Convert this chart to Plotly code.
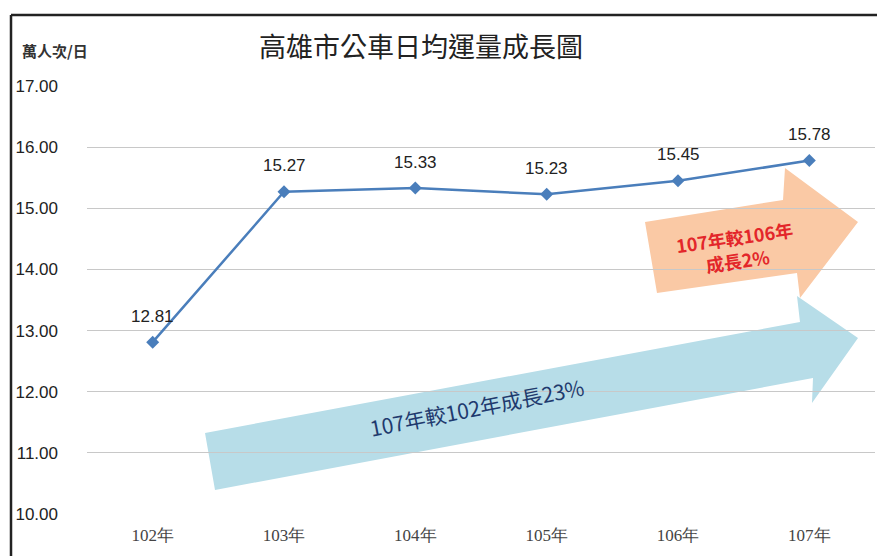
import plotly.graph_objects as go

years = ["102年", "103年", "104年", "105年", "106年", "107年"]
ridership = [12.81, 15.27, 15.33, 15.23, 15.45, 15.78]
y_ticks = [10, 11, 12, 13, 14, 15, 16, 17]
title_text = "高雄市公車日均運量成長圖"
unit_text = "萬人次/日"
arrow_big_text = "107年較102年成長23%"
arrow_small_text = "107年較106年<br>成長2%"

OFF = 8  # page body margin
W, H = 885 - OFF, 556 - OFF
L, R, T, B = 87 - OFF, 875 - OFF, 86 - OFF, 514 - OFF


def px(x):
    return (x - OFF - L) / (R - L)


def py(y):
    return (B - (y - OFF)) / (B - T)


def path(pts):
    return "M " + " L ".join(f"{px(x):.5f},{py(y):.5f}" for x, y in pts) + " Z"


fig = go.Figure()
fig.add_trace(go.Scatter(
    x=years, y=ridership,
    mode="lines+markers",
    line=dict(color="#4A7EBB", width=2.5),
    marker=dict(symbol="diamond", size=10, color="#4A7EBB"),
    cliponaxis=False,
    showlegend=False,
))

blue_arrow = [(205, 433), (800, 322), (797, 296), (858, 338), (812, 403), (813, 378), (215, 490)]
orange_arrow = [(645, 222), (783, 200), (785, 168), (858, 222), (800, 298), (797, 273), (657, 293)]

shapes = [
    dict(type="path", xref="paper", yref="paper", path=path(blue_arrow),
         fillcolor="#B7DDE8", line=dict(width=0), layer="between"),
    dict(type="path", xref="paper", yref="paper", path=path(orange_arrow),
         fillcolor="#FAC9A5", line=dict(width=0), layer="between"),
    # outer frame
    dict(type="line", xref="paper", yref="paper", x0=px(11), x1=px(895), y0=py(15), y1=py(15),
         line=dict(color="#222", width=2.5)),
    dict(type="line", xref="paper", yref="paper", x0=px(11), x1=px(11), y0=py(15), y1=py(570),
         line=dict(color="#222", width=2.5)),
]

annotations = [
    dict(x=xv, y=yv, xref="x", yref="y", text=f"{yv:.2f}", showarrow=False,
         yshift=26, font=dict(family="Arial, Liberation Sans", size=17, color="#222"))
    for xv, yv in zip(years, ridership)
]
annotations += [
    dict(text=title_text, xref="paper", yref="paper", x=px(421), y=py(45),
         showarrow=False, font=dict(family="Noto Sans CJK TC", size=27, color="#222"),
         xanchor="center", yanchor="middle"),
    dict(text=f"<b>{unit_text}</b>", xref="paper", yref="paper", x=px(20), y=py(50),
         showarrow=False, font=dict(family="Noto Sans CJK TC", size=15, color="#333"),
         xanchor="left", yanchor="middle"),
    dict(text=arrow_big_text, xref="paper", yref="paper", x=px(477), y=py(407),
         showarrow=False, textangle=-11,
         font=dict(family="Noto Sans CJK TC", size=21, color="#1F3A6E"),
         xanchor="center", yanchor="middle"),
    dict(text=f"<b>{arrow_small_text}</b>", xref="paper", yref="paper", x=px(736), y=py(248),
         showarrow=False, textangle=-8,
         font=dict(family="Noto Sans CJK TC", size=18, color="#E3262A"),
         xanchor="center", yanchor="middle"),
]

fig.update_layout(
    width=W, height=H,
    margin=dict(l=L, r=W - R, t=T, b=H - B),
    paper_bgcolor="white", plot_bgcolor="white",
    shapes=shapes, annotations=annotations,
    xaxis=dict(
        range=[-0.5, 5.5], automargin=False,
        showgrid=False, showline=False, zeroline=False, ticks="",
        tickfont=dict(family="Liberation Serif", size=17, color="#444"),
        ticklabelstandoff=9,
    ),
    yaxis=dict(
        range=[10, 17], tickvals=y_ticks, ticktext=[f"{v:.2f}" for v in y_ticks],
        automargin=False,
        showgrid=True, gridcolor="#C8C8C8", gridwidth=1.2, zeroline=False,
        showline=False, ticks="",
        tickfont=dict(family="Arial, Liberation Sans", size=17, color="#222"),
        ticklabelstandoff=28,
    ),
)

fig.write_html("out.html")
